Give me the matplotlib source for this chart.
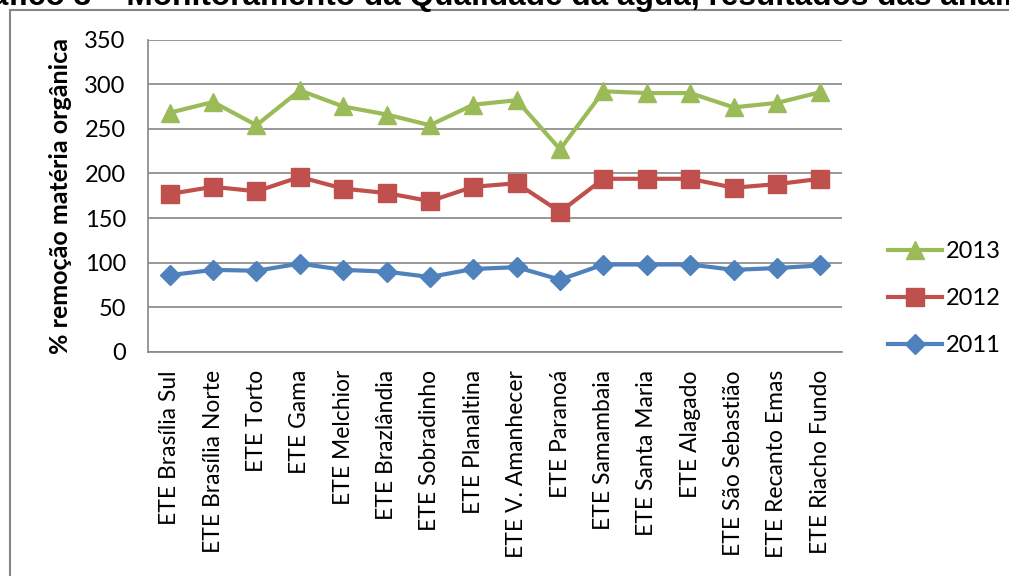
import matplotlib
matplotlib.use("Agg")
import matplotlib.pyplot as plt
from matplotlib.patches import Rectangle

categories = ["ETE Brasília Sul", "ETE Brasília Norte", "ETE Torto", "ETE Gama",
              "ETE Melchior", "ETE Brazlândia", "ETE Sobradinho", "ETE Planaltina",
              "ETE V. Amanhecer", "ETE Paranoá", "ETE Samambaia", "ETE Santa Maria",
              "ETE Alagado", "ETE São Sebastião", "ETE Recanto Emas", "ETE Riacho Fundo"]
v2011 = [86, 92, 91, 99, 92, 90, 84, 93, 95, 81, 98, 98, 98, 92, 94, 97]
v2012 = [177, 185, 180, 196, 183, 178, 169, 185, 189, 157, 194, 194, 194, 184, 188, 194]
v2013 = [268, 280, 254, 293, 275, 266, 254, 277, 282, 227, 292, 290, 290, 274, 279, 291]
yticks = [0, 50, 100, 150, 200, 250, 300, 350]

plt.rcParams['font.family'] = ['Lato', 'DejaVu Sans']

fig = plt.figure(figsize=(10.09, 5.76), dpi=100)
ax = fig.add_axes([148 / 1009, 1 - 352 / 576, (842 - 148) / 1009, (352 - 39.5) / 576])

x = list(range(len(categories)))
ax.plot(x, v2013, color='#9BBB59', lw=3, marker='^', ms=13, label='2013', zorder=3)
ax.plot(x, v2012, color='#C0504D', lw=3, marker='s', ms=13, label='2012', zorder=3)
ax.plot(x, v2011, color='#4F81BD', lw=3, marker='D', ms=10, label='2011', zorder=3)

ax.set_xlim(-0.5, len(categories) - 0.5)
ax.set_ylim(0, 350)
ax.set_yticks(yticks)
ax.set_xticks(x)
ax.set_xticklabels(categories, rotation=90, fontsize=16.5)
ax.tick_params(axis='y', length=0, pad=16, labelsize=17)
ax.tick_params(axis='x', length=0, pad=13)
ax.yaxis.grid(True, color='#868686', lw=1.2)
ax.set_axisbelow(True)
for s in ['top', 'right']:
    ax.spines[s].set_visible(False)
for s in ['left', 'bottom']:
    ax.spines[s].set_color('#868686')
    ax.spines[s].set_linewidth(1.2)

ax.set_ylabel('% remoção matéria orgânica', fontsize=18, fontweight='bold', labelpad=9)

leg = ax.legend(loc='center left', bbox_to_anchor=(1.035, 0.17), frameon=False,
                fontsize=17, handlelength=2.3, handletextpad=0.15, labelspacing=1.1)

# outer chart frame and the cut-off caption above it
fig.patches.append(Rectangle((10 / 1009, -0.1), 1.2, 1.1 - 10 / 576,
                             transform=fig.transFigure, fill=False,
                             edgecolor='#868686', lw=1.5))
fig.text(-0.046, 1 - 5.5 / 576, 'Gráfico 3 – Monitoramento da Qualidade da água, resultados das análises',
         fontsize=22.8, fontweight='bold', family='Liberation Sans', va='baseline', ha='left')

fig.savefig('out.png', dpi=100)
